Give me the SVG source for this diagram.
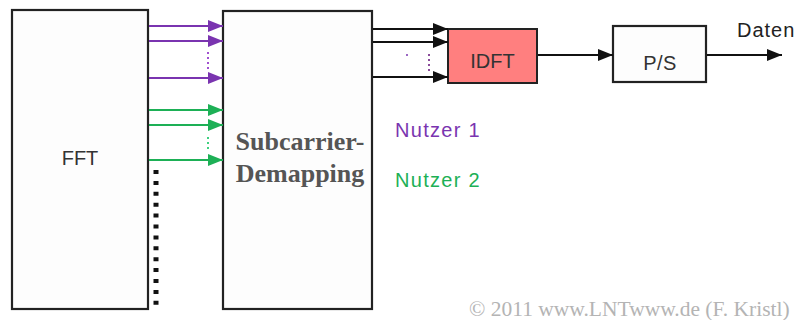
<svg xmlns="http://www.w3.org/2000/svg" width="803" height="320" viewBox="0 0 803 320">
  <style>
    .box { fill: #fdfdfd; stroke: #222; stroke-width: 2.2; }
    .lbl { font-family: "Liberation Sans", Arial, sans-serif; font-size: 20px; fill: #333; text-anchor: middle; }
    .blk { stroke: #111; stroke-width: 2; fill: none; }
    .pur { stroke: #7a34b0; stroke-width: 2; fill: none; }
    .grn { stroke: #1db056; stroke-width: 2; fill: none; }
  </style>
  <defs>
    <marker id="ahB" markerUnits="userSpaceOnUse" markerWidth="15" markerHeight="12" refX="15" refY="6" orient="auto">
      <path d="M0,0 L15,6 L0,12 z" fill="#111"/>
    </marker>
    <marker id="ahP" markerUnits="userSpaceOnUse" markerWidth="15" markerHeight="12" refX="15" refY="6" orient="auto">
      <path d="M0,0 L15,6 L0,12 z" fill="#7a34b0"/>
    </marker>
    <marker id="ahG" markerUnits="userSpaceOnUse" markerWidth="15" markerHeight="12" refX="15" refY="6" orient="auto">
      <path d="M0,0 L15,6 L0,12 z" fill="#1db056"/>
    </marker>
  </defs>
  <rect width="803" height="320" fill="#ffffff"/>

  <g id="fft">
    <rect class="box" x="12" y="10" width="136" height="299"/>
    <text class="lbl" x="80" y="165">FFT</text>
  </g>

  <g id="demapping">
    <rect class="box" x="223" y="11" width="149" height="298"/>
    <text x="300" y="150" font-family="Liberation Serif, 'Times New Roman', serif" font-weight="bold" font-size="26" fill="#555" text-anchor="middle">Subcarrier-</text>
    <text x="300" y="182" font-family="Liberation Serif, 'Times New Roman', serif" font-weight="bold" font-size="26" fill="#555" text-anchor="middle">Demapping</text>
  </g>

  <g id="idft">
    <rect x="448" y="29" width="89" height="54" fill="#ff7f7f" stroke="#222" stroke-width="2"/>
    <text class="lbl" x="492.5" y="68">IDFT</text>
  </g>

  <g id="ps">
    <rect class="box" x="613" y="26" width="93" height="56"/>
    <text class="lbl" x="660" y="70" font-size="21" letter-spacing="0.5" fill="#223">P/S</text>
  </g>

  <g id="daten">
    <text x="737" y="37" font-family="Liberation Sans, Arial, sans-serif" font-size="20" letter-spacing="1" fill="#222">Daten</text>
  </g>

  <g id="nutzer1">
    <text x="395" y="137" font-family="Liberation Sans, Arial, sans-serif" font-size="20" letter-spacing="1.3" fill="#7a34b0">Nutzer 1</text>
  </g>
  <g id="nutzer2">
    <text x="395" y="187" font-family="Liberation Sans, Arial, sans-serif" font-size="20" letter-spacing="1.3" fill="#1db056">Nutzer 2</text>
  </g>

  <g id="connectors">
    <line class="pur" x1="149" y1="26" x2="223" y2="26" marker-end="url(#ahP)"/>
    <line class="pur" x1="149" y1="41" x2="223" y2="41" marker-end="url(#ahP)"/>
    <line class="pur" x1="149" y1="78" x2="223" y2="78" marker-end="url(#ahP)"/>
    <line x1="208" y1="52" x2="208" y2="71" stroke="#a050d0" stroke-width="2" stroke-dasharray="2 3"/>

    <line class="grn" x1="149" y1="110" x2="223" y2="110" marker-end="url(#ahG)"/>
    <line class="grn" x1="149" y1="125" x2="223" y2="125" marker-end="url(#ahG)"/>
    <line class="grn" x1="149" y1="160" x2="223" y2="160" marker-end="url(#ahG)"/>
    <line x1="208" y1="137" x2="208" y2="151" stroke="#40d080" stroke-width="2" stroke-dasharray="2 3"/>

    <line x1="156" y1="170" x2="156" y2="306" stroke="#111" stroke-width="5" stroke-dasharray="4 6.9"/>

    <line class="blk" x1="373" y1="29" x2="448" y2="29" marker-end="url(#ahB)"/>
    <line class="blk" x1="373" y1="42" x2="448" y2="42" marker-end="url(#ahB)"/>
    <line class="blk" x1="373" y1="77" x2="448" y2="77" marker-end="url(#ahB)"/>
    <circle cx="407" cy="55" r="1" fill="#7a34b0"/>
    <line x1="429" y1="54" x2="429" y2="72" stroke="#8a4a9a" stroke-width="2" stroke-dasharray="2 3"/>

    <line class="blk" x1="538" y1="55" x2="613" y2="55" marker-end="url(#ahB)"/>
    <line class="blk" x1="707" y1="55" x2="782" y2="55" marker-end="url(#ahB)"/>
  </g>

  <text x="469" y="316" font-family="Liberation Serif, 'Times New Roman', serif" font-size="21.5" fill="#b4b4b4">© 2011 www.LNTwww.de (F. Kristl)</text>
</svg>
